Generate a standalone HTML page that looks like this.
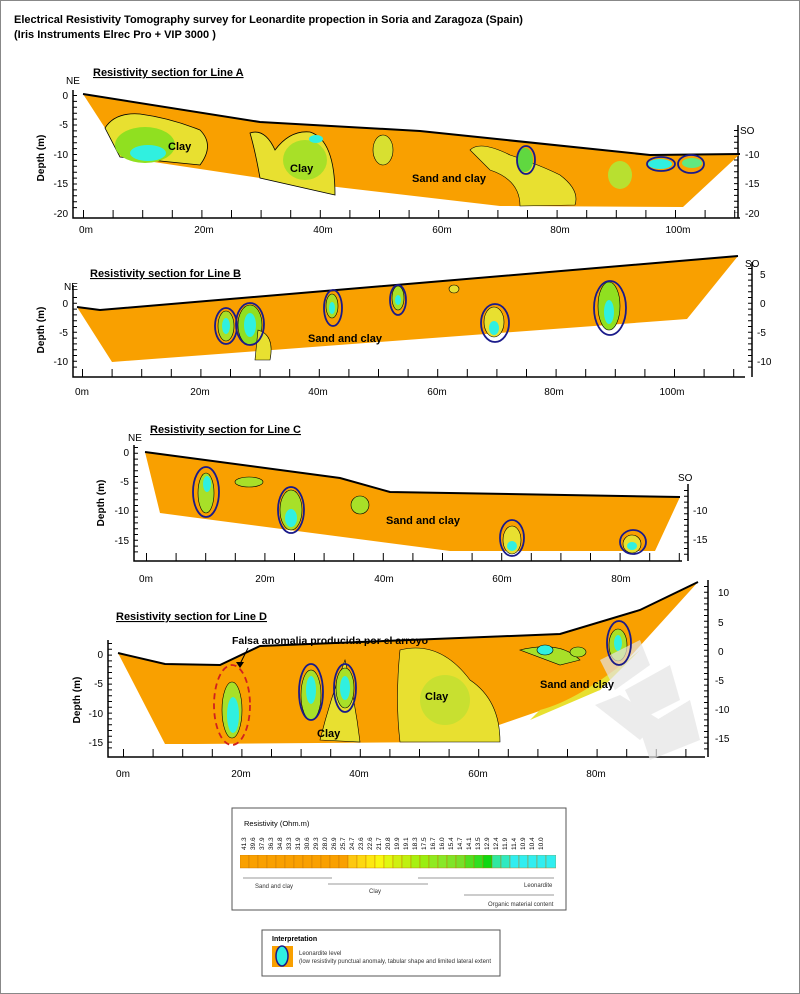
<!DOCTYPE html>
<html><head><meta charset="utf-8"><style>
body{margin:0;background:#fff}
svg{display:block;font-family:"Liberation Sans",Arial,sans-serif}
</style></head><body>
<svg width="800" height="994" viewBox="0 0 800 994" xmlns="http://www.w3.org/2000/svg">
<rect x="0.5" y="0.5" width="799" height="993" fill="#fff" stroke="#888"/>
<text x="14" y="23" font-size="11" font-weight="bold">Electrical Resistivity Tomography survey for Leonardite propection in Soria and Zaragoza (Spain)</text>
<text x="14" y="38" font-size="11" font-weight="bold">(Iris Instruments Elrec Pro + VIP 3000 )</text>

<g font-size="10" fill="#000">
<!-- LINE A -->
<text x="93" y="76" font-size="11" font-weight="bold" text-decoration="underline">Resistivity section for Line A</text>
<text x="66" y="84" font-size="10">NE</text>
<path d="M73,90V218H740" fill="none" stroke="#000" stroke-width="1.5"/>
<path d="M738,125V218" fill="none" stroke="#000" stroke-width="1.5"/>
<g stroke="#000" stroke-width="1" fill="none">
<path d="M83,214H740" stroke-width="8" stroke-dasharray="1,28.6"/>
<path d="M75,95V213" stroke-width="4" stroke-dasharray="1,4.9"/>
<path d="M736,130V213" stroke-width="4" stroke-dasharray="1,4.9"/>
</g>
<text x="740" y="134" font-size="10">SO</text>
<g text-anchor="end"><text x="68" y="99">0</text><text x="68" y="128">-5</text><text x="68" y="158">-10</text><text x="68" y="187">-15</text><text x="68" y="217">-20</text></g>
<g><text x="745" y="158">-10</text><text x="745" y="187">-15</text><text x="745" y="217">-20</text></g>
<g text-anchor="middle"><text x="86" y="233">0m</text><text x="204" y="233">20m</text><text x="323" y="233">40m</text><text x="442" y="233">60m</text><text x="560" y="233">80m</text><text x="678" y="233">100m</text></g>
<text transform="translate(44,158) rotate(-90)" text-anchor="middle" font-weight="bold">Depth (m)</text>
<path d="M83,94L260,122L420,131L650,155L740,154L683,207L500,206L260,178L120,157L105,128Z" fill="#f9a000"/>
<path d="M83,94L260,122L420,131L650,155L740,154" fill="none" stroke="#000" stroke-width="2"/>
<path d="M105,128Q115,112 140,114Q170,118 200,130Q215,145 200,165L120,157Z" fill="#e8e030" stroke="#000" stroke-width="0.8"/>
<ellipse cx="145" cy="145" rx="30" ry="18" fill="#90e020"/>
<ellipse cx="148" cy="153" rx="18" ry="8" fill="#30f0e0"/>
<path d="M250,133Q265,128 275,150Q290,130 310,132Q335,140 335,195L260,178Q255,150 250,133Z" fill="#e8e030" stroke="#000" stroke-width="0.8"/>
<ellipse cx="305" cy="160" rx="22" ry="20" fill="#a8e028"/>
<ellipse cx="316" cy="139" rx="7" ry="4" fill="#30f0e0"/>
<ellipse cx="383" cy="150" rx="10" ry="15" fill="#d8e030" stroke="#000" stroke-width="0.6"/>
<path d="M470,150Q480,140 510,155Q540,165 560,175Q580,190 575,205L520,206Q520,180 490,170Z" fill="#e8e030" stroke="#000" stroke-width="0.6"/>
<ellipse cx="525" cy="160" rx="8" ry="12" fill="#60d840"/>
<ellipse cx="620" cy="175" rx="12" ry="14" fill="#b8e030"/>
<ellipse cx="660" cy="164" rx="12" ry="5" fill="#30f0e0"/>
<ellipse cx="692" cy="163" rx="10" ry="5" fill="#60e880"/>
<g fill="none" stroke="#1a1a8a" stroke-width="1.8"><ellipse cx="526" cy="160" rx="9" ry="14"/><ellipse cx="661" cy="164" rx="14" ry="7"/><ellipse cx="691" cy="164" rx="13" ry="9"/></g>
<g font-weight="bold" font-size="11"><text x="168" y="150">Clay</text><text x="290" y="172">Clay</text><text x="412" y="182">Sand and clay</text></g>

<!-- LINE B -->
<text x="90" y="277" font-size="11" font-weight="bold" text-decoration="underline">Resistivity section for Line B</text>
<text x="64" y="290">NE</text>
<path d="M73,285V377H745" fill="none" stroke="#000" stroke-width="1.5"/>
<path d="M752,262V377" fill="none" stroke="#000" stroke-width="1.5"/>
<g stroke="#000" stroke-width="1" fill="none">
<path d="M82,373H745" stroke-width="8" stroke-dasharray="1,28.6"/>
<path d="M75,297V372" stroke-width="4" stroke-dasharray="1,4.8"/>
<path d="M750,268V372" stroke-width="4" stroke-dasharray="1,4.8"/>
</g>
<text x="745" y="267">SO</text>
<g text-anchor="end"><text x="68" y="307">0</text><text x="68" y="336">-5</text><text x="68" y="365">-10</text></g>
<g><text x="760" y="278">5</text><text x="760" y="307">0</text><text x="757" y="336">-5</text><text x="757" y="365">-10</text></g>
<g text-anchor="middle"><text x="82" y="395">0m</text><text x="200" y="395">20m</text><text x="318" y="395">40m</text><text x="437" y="395">60m</text><text x="554" y="395">80m</text><text x="672" y="395">100m</text></g>
<text transform="translate(44,330) rotate(-90)" text-anchor="middle" font-weight="bold">Depth (m)</text>
<path d="M77,307L100,310L738,256L687,319L112,362Z" fill="#f9a000"/>
<path d="M77,307L100,310L738,256" fill="none" stroke="#000" stroke-width="2"/>
<g stroke="#000" stroke-width="0.6">
<ellipse cx="226" cy="326" rx="8" ry="15" fill="#a8e028"/><ellipse cx="226" cy="326" rx="4" ry="8" fill="#30f0e0" stroke="none"/>
<ellipse cx="250" cy="325" rx="12" ry="20" fill="#90e020"/><ellipse cx="250" cy="325" rx="6" ry="12" fill="#30f0e0" stroke="none"/>
<path d="M258,330Q275,335 270,360L255,360Z" fill="#e8e030"/>
<ellipse cx="332" cy="306" rx="6" ry="12" fill="#a8e028"/><ellipse cx="332" cy="308" rx="3" ry="6" fill="#30f0e0" stroke="none"/>
<ellipse cx="398" cy="298" rx="6" ry="12" fill="#a8e028"/><ellipse cx="398" cy="300" rx="3" ry="5" fill="#30f0e0" stroke="none"/>
<ellipse cx="454" cy="289" rx="5" ry="4" fill="#e8e030"/>
<ellipse cx="494" cy="322" rx="10" ry="15" fill="#e8e030"/><ellipse cx="494" cy="328" rx="5" ry="7" fill="#30f0e0" stroke="none"/>
<ellipse cx="609" cy="306" rx="11" ry="24" fill="#90e020"/><ellipse cx="609" cy="312" rx="5" ry="12" fill="#30f0e0" stroke="none"/>
</g>
<g fill="none" stroke="#1a1a8a" stroke-width="1.8"><ellipse cx="226" cy="326" rx="11" ry="18"/><ellipse cx="250" cy="324" rx="14" ry="21"/><ellipse cx="333" cy="308" rx="9" ry="18"/><ellipse cx="398" cy="300" rx="8" ry="15"/><ellipse cx="495" cy="323" rx="14" ry="19"/><ellipse cx="610" cy="308" rx="16" ry="27"/></g>
<text x="308" y="342" font-weight="bold" font-size="11">Sand and clay</text>

<!-- LINE C -->
<text x="150" y="433" font-size="11" font-weight="bold" text-decoration="underline">Resistivity section for Line C</text>
<text x="128" y="441">NE</text>
<path d="M134,445V561H682" fill="none" stroke="#000" stroke-width="1.5"/>
<path d="M688,484V561" fill="none" stroke="#000" stroke-width="1.5"/>
<g stroke="#000" stroke-width="1" fill="none">
<path d="M146,557H682" stroke-width="8" stroke-dasharray="1,28.6"/>
<path d="M136,447V556" stroke-width="4" stroke-dasharray="1,4.8"/>
<path d="M686,490V556" stroke-width="4" stroke-dasharray="1,4.8"/>
</g>
<text x="678" y="481">SO</text>
<g text-anchor="end"><text x="129" y="456">0</text><text x="129" y="485">-5</text><text x="129" y="514">-10</text><text x="129" y="544">-15</text></g>
<g><text x="693" y="514">-10</text><text x="693" y="543">-15</text></g>
<g text-anchor="middle"><text x="146" y="582">0m</text><text x="265" y="582">20m</text><text x="384" y="582">40m</text><text x="502" y="582">60m</text><text x="621" y="582">80m</text></g>
<text transform="translate(104,503) rotate(-90)" text-anchor="middle" font-weight="bold">Depth (m)</text>
<path d="M145,452L340,478L390,492L680,497L655,551L450,551L190,517L160,513Z" fill="#f9a000"/>
<path d="M145,452L340,478L390,492L680,497" fill="none" stroke="#000" stroke-width="2"/>
<g stroke="#000" stroke-width="0.6">
<ellipse cx="206" cy="493" rx="8" ry="20" fill="#a8e028"/><ellipse cx="207" cy="484" rx="4" ry="8" fill="#30f0e0" stroke="none"/>
<ellipse cx="249" cy="482" rx="14" ry="5" fill="#a8e028"/>
<ellipse cx="291" cy="510" rx="11" ry="20" fill="#a8e028"/><ellipse cx="291" cy="518" rx="6" ry="9" fill="#30f0e0" stroke="none"/>
<ellipse cx="360" cy="505" rx="9" ry="9" fill="#a8e028"/>
<ellipse cx="512" cy="540" rx="9" ry="14" fill="#e8e030"/><ellipse cx="512" cy="546" rx="5" ry="5" fill="#30f0e0" stroke="none"/>
<ellipse cx="632" cy="544" rx="9" ry="9" fill="#e8e030"/><ellipse cx="632" cy="546" rx="5" ry="4" fill="#30f0e0" stroke="none"/>
</g>
<g fill="none" stroke="#1a1a8a" stroke-width="1.8"><ellipse cx="206" cy="492" rx="13" ry="25"/><ellipse cx="291" cy="510" rx="13" ry="23"/><ellipse cx="512" cy="538" rx="12" ry="18"/><ellipse cx="633" cy="542" rx="13" ry="12"/></g>
<text x="386" y="524" font-weight="bold" font-size="11">Sand and clay</text>

<!-- LINE D -->
<text x="116" y="620" font-size="11" font-weight="bold" text-decoration="underline">Resistivity section for Line D</text>
<path d="M108,640V757H705" fill="none" stroke="#000" stroke-width="1.5"/>
<path d="M708,580V757" fill="none" stroke="#000" stroke-width="1.5"/>
<g stroke="#000" stroke-width="1" fill="none">
<path d="M123,753H705" stroke-width="8" stroke-dasharray="1,28.6"/>
<path d="M110,643V752" stroke-width="4" stroke-dasharray="1,4.8"/>
<path d="M706,586V752" stroke-width="4" stroke-dasharray="1,4.8"/>
</g>
<g text-anchor="end"><text x="103" y="658">0</text><text x="103" y="687">-5</text><text x="103" y="717">-10</text><text x="103" y="746">-15</text></g>
<g><text x="718" y="596">10</text><text x="718" y="626">5</text><text x="718" y="655">0</text><text x="715" y="684">-5</text><text x="715" y="713">-10</text><text x="715" y="742">-15</text></g>
<g text-anchor="middle"><text x="123" y="777">0m</text><text x="241" y="777">20m</text><text x="359" y="777">40m</text><text x="478" y="777">60m</text><text x="596" y="777">80m</text></g>
<text transform="translate(80,700) rotate(-90)" text-anchor="middle" font-weight="bold">Depth (m)</text>
<path d="M118,653L165,664L220,665L260,646L560,634L640,610L698,582L600,690L450,742L195,744L165,744Z" fill="#f9a000"/>
<path d="M118,653L165,664L220,665L260,646L560,634L640,610L698,582" fill="none" stroke="#000" stroke-width="2"/>
<g stroke="#000" stroke-width="0.6">
<ellipse cx="232" cy="710" rx="10" ry="28" fill="#a8e028"/><ellipse cx="233" cy="715" rx="6" ry="18" fill="#30f0e0" stroke="none"/>
<ellipse cx="311" cy="695" rx="10" ry="25" fill="#a8e028"/><ellipse cx="311" cy="690" rx="5" ry="14" fill="#30f0e0" stroke="none"/>
<path d="M345,660Q330,700 320,740L360,742Q355,700 345,660Z" fill="#e8e030"/>
<ellipse cx="345" cy="688" rx="9" ry="20" fill="#a8e028"/><ellipse cx="345" cy="688" rx="5" ry="12" fill="#30f0e0" stroke="none"/>
<path d="M400,650Q440,640 470,680Q500,700 500,742L400,742Q395,700 400,650Z" fill="#e8e030"/>
<ellipse cx="445" cy="700" rx="25" ry="25" fill="#c8e030" stroke="none"/>
<path d="M520,650Q560,640 580,660L560,665Z" fill="#a8e028"/>
<ellipse cx="618" cy="645" rx="9" ry="16" fill="#a8e028"/><ellipse cx="618" cy="643" rx="4" ry="8" fill="#30f0e0" stroke="none"/>
<ellipse cx="545" cy="650" rx="8" ry="5" fill="#30f0e0"/>
<ellipse cx="578" cy="652" rx="8" ry="5" fill="#a8e028"/>
</g>
<path d="M540,710Q580,700 640,650L600,690L530,720Z" fill="#e8e030"/>
<g fill="#e4e4e4" opacity="0.7"><path d="M600,660L640,640L650,665L615,690Z"/><path d="M625,690L670,665L680,700L640,720Z"/><path d="M595,705L640,740L660,720L620,695Z"/><path d="M640,730L690,700L700,740L650,760Z"/></g>
<g fill="none" stroke="#1a1a8a" stroke-width="1.8"><ellipse cx="311" cy="692" rx="12" ry="28"/><ellipse cx="345" cy="688" rx="11" ry="24"/><ellipse cx="619" cy="643" rx="12" ry="22"/></g>
<ellipse cx="232" cy="705" rx="18" ry="40" fill="none" stroke="#d02020" stroke-width="1.8" stroke-dasharray="6,4"/>
<path d="M248,648L240,664" stroke="#000" stroke-width="1"/><path d="M236,662L240,668L244,662Z" fill="#000"/>
<text x="232" y="644" font-size="10.5" font-weight="bold">Falsa anomalia producida por el arroyo</text>
<g font-weight="bold" font-size="11"><text x="425" y="700">Clay</text><text x="317" y="737">Clay</text><text x="540" y="688">Sand and clay</text></g>
</g>

<!-- LEGEND -->
<rect x="232" y="808" width="334" height="102" fill="#fff" stroke="#555"/>
<text x="244" y="826" font-size="7.5">Resistivity (Ohm.m)</text>
<svg x="240" y="855" width="316" height="14">
<g stroke="#c07000" stroke-width="0.4">
<rect x="0" y="0" width="9" height="13" fill="#f9a000"/><rect x="9" y="0" width="9" height="13" fill="#f9a000"/><rect x="18" y="0" width="9" height="13" fill="#f9a000"/><rect x="27" y="0" width="9" height="13" fill="#f9a000"/><rect x="36" y="0" width="9" height="13" fill="#f9a000"/><rect x="45" y="0" width="9" height="13" fill="#f9a000"/><rect x="54" y="0" width="9" height="13" fill="#f9a000"/><rect x="63" y="0" width="9" height="13" fill="#f9a000"/><rect x="72" y="0" width="9" height="13" fill="#f9a000"/><rect x="81" y="0" width="9" height="13" fill="#f9a000"/><rect x="90" y="0" width="9" height="13" fill="#f9a000"/><rect x="99" y="0" width="9" height="13" fill="#f9a000"/>
<rect x="108" y="0" width="9" height="13" fill="#fdc810"/><rect x="117" y="0" width="9" height="13" fill="#fdd810"/><rect x="126" y="0" width="9" height="13" fill="#fde810"/><rect x="135" y="0" width="9" height="13" fill="#f8f810"/><rect x="144" y="0" width="9" height="13" fill="#e0f810"/><rect x="153" y="0" width="9" height="13" fill="#cff010"/><rect x="162" y="0" width="9" height="13" fill="#bff010"/><rect x="171" y="0" width="9" height="13" fill="#a8f010"/><rect x="180" y="0" width="9" height="13" fill="#9aee10"/><rect x="189" y="0" width="9" height="13" fill="#90ea20"/><rect x="198" y="0" width="9" height="13" fill="#88e828"/><rect x="207" y="0" width="9" height="13" fill="#80e428"/><rect x="216" y="0" width="9" height="13" fill="#78e028"/><rect x="225" y="0" width="9" height="13" fill="#50e020"/><rect x="234" y="0" width="9" height="13" fill="#30e020"/><rect x="243" y="0" width="9" height="13" fill="#10d810"/><rect x="252" y="0" width="9" height="13" fill="#30e8a0"/><rect x="261" y="0" width="9" height="13" fill="#30eac0"/><rect x="270" y="0" width="9" height="13" fill="#30eef0"/><rect x="279" y="0" width="9" height="13" fill="#30eef0"/><rect x="288" y="0" width="9" height="13" fill="#30eef0"/><rect x="297" y="0" width="9" height="13" fill="#30eef0"/><rect x="306" y="0" width="10" height="13" fill="#30eef0"/>
</g></svg>
<g font-size="6.5">
<text transform="translate(246,850) rotate(-90)">41.3</text><text transform="translate(255,850) rotate(-90)">39.6</text><text transform="translate(264,850) rotate(-90)">37.9</text><text transform="translate(273,850) rotate(-90)">36.3</text><text transform="translate(282,850) rotate(-90)">34.8</text><text transform="translate(291,850) rotate(-90)">33.3</text><text transform="translate(300,850) rotate(-90)">31.9</text><text transform="translate(309,850) rotate(-90)">30.6</text><text transform="translate(318,850) rotate(-90)">29.3</text><text transform="translate(327,850) rotate(-90)">28.0</text><text transform="translate(336,850) rotate(-90)">26.9</text><text transform="translate(345,850) rotate(-90)">25.7</text><text transform="translate(354,850) rotate(-90)">24.7</text><text transform="translate(363,850) rotate(-90)">23.6</text><text transform="translate(372,850) rotate(-90)">22.6</text><text transform="translate(381,850) rotate(-90)">21.7</text><text transform="translate(390,850) rotate(-90)">20.8</text><text transform="translate(399,850) rotate(-90)">19.9</text><text transform="translate(408,850) rotate(-90)">19.1</text><text transform="translate(417,850) rotate(-90)">18.3</text><text transform="translate(426,850) rotate(-90)">17.5</text><text transform="translate(435,850) rotate(-90)">16.7</text><text transform="translate(444,850) rotate(-90)">16.0</text><text transform="translate(453,850) rotate(-90)">15.4</text><text transform="translate(462,850) rotate(-90)">14.7</text><text transform="translate(471,850) rotate(-90)">14.1</text><text transform="translate(480,850) rotate(-90)">13.5</text><text transform="translate(489,850) rotate(-90)">12.9</text><text transform="translate(498,850) rotate(-90)">12.4</text><text transform="translate(507,850) rotate(-90)">11.9</text><text transform="translate(516,850) rotate(-90)">11.4</text><text transform="translate(525,850) rotate(-90)">10.9</text><text transform="translate(534,850) rotate(-90)">10.4</text><text transform="translate(543,850) rotate(-90)">10.0</text>
</g>
<g stroke="#333" stroke-width="0.6" fill="none"><path d="M243,878H332"/><path d="M328,884H428"/><path d="M418,878H554"/><path d="M464,895H554"/></g>
<g font-size="6" fill="#333"><text x="255" y="888">Sand and clay</text><text x="369" y="893">Clay</text><text x="524" y="887">Leonardite</text><text x="488" y="906">Organic material content</text></g>

<rect x="262" y="930" width="238" height="46" fill="#fff" stroke="#555"/>
<text x="272" y="941" font-size="7" font-weight="bold">Interpretation</text>
<rect x="272" y="946" width="21" height="21" fill="#f9a000"/>
<ellipse cx="282" cy="956" rx="6" ry="10" fill="#30f0e0" stroke="#1a1a8a" stroke-width="1.5"/>
<text x="299" y="955" font-size="6" fill="#333">Leonardite level</text>
<text x="299" y="963" font-size="6" fill="#333">(low resistivity punctual anomaly, tabular shape and limited lateral extent</text>
</svg>
</body></html>
